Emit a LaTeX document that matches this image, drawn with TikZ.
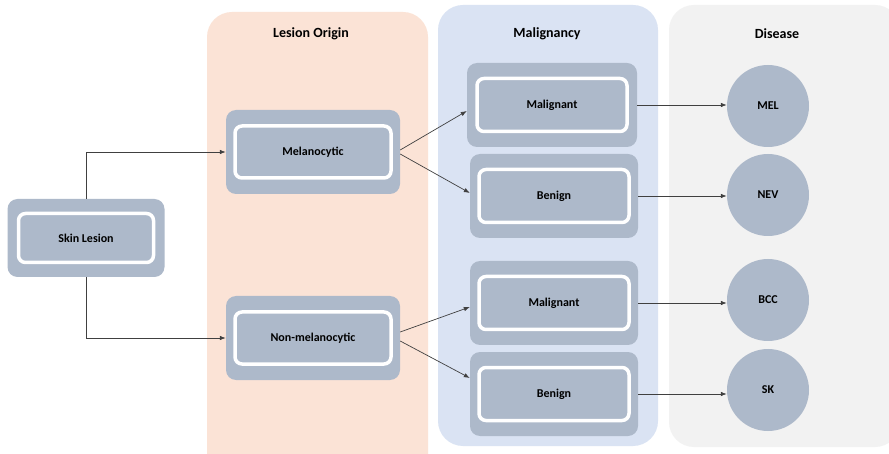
\documentclass[tikz,border=0pt]{standalone}
\usepackage{fontspec}
\setmainfont{Carlito}[BoldFont={Carlito Bold}]
\usetikzlibrary{arrows.meta,calc}
\definecolor{boxc}{HTML}{ADB9CA}
\definecolor{peach}{HTML}{FBE3D6}
\definecolor{lblue}{HTML}{DAE3F3}
\definecolor{lgray}{HTML}{F2F2F2}
\definecolor{linec}{HTML}{404040}
\tikzset{
  outerbox/.style={fill=boxc, draw=none, rounded corners=10pt, inner sep=0pt},
  innerbox/.style={fill=boxc, draw=white, line width=3.5pt, rounded corners=7pt, font=\fontsize{12}{14}\selectfont\bfseries, inner sep=0pt},
  disc/.style={circle, fill=boxc, draw=none, minimum size=82pt, inner sep=0pt, font=\fontsize{12}{14}\selectfont\bfseries},
  head/.style={font=\fontsize{14}{17}\selectfont\bfseries},
  conn/.style={draw=linec, line width=0.7pt, -{Latex[length=6pt,width=4.5pt]}}
}
\begin{document}
\begin{tikzpicture}[x=1pt,y=-1pt]
\useasboundingbox (0,0) rectangle (889,454);
\fill[white] (0,0) rectangle (889,454);
\begin{scope}
\clip (0,0) rectangle (889,454);
\fill[peach, rounded corners=25pt] (207,12) rectangle (428,480);
\fill[lblue, rounded corners=25pt] (438,5) rectangle (658,446);
\fill[lgray, rounded corners=25pt] (669,5) rectangle (900,447);
\end{scope}
\node[head] (h1) at (311,34) {Lesion Origin};
\node[head] (h2) at (547,34) {Malignancy};
\node[head] (h3) at (777,34) {Disease};

% Skin lesion
\node[outerbox, minimum width=157pt, minimum height=78pt] (skin) at (86,238) {};
\node[innerbox, minimum width=135pt, minimum height=49pt] (skinin) at (skin) {Skin Lesion};

% Lesion origin
\node[outerbox, minimum width=174pt, minimum height=84pt] (mel) at (313,152) {};
\node[innerbox, minimum width=156pt, minimum height=52pt] (melin) at (mel) {Melanocytic};
\node[outerbox, minimum width=174pt, minimum height=84pt] (non) at (313,338) {};
\node[innerbox, minimum width=156pt, minimum height=52pt] (nonin) at (non) {Non-melanocytic};

% Malignancy
\node[outerbox, minimum width=170pt, minimum height=84pt] (mal1) at (552,105) {};
\node[innerbox, minimum width=150pt, minimum height=53pt] (mal1in) at (mal1) {Malignant};
\node[outerbox, minimum width=168pt, minimum height=84pt] (ben1) at (554,196) {};
\node[innerbox, minimum width=150pt, minimum height=53pt] (ben1in) at (ben1) {Benign};
\node[outerbox, minimum width=168pt, minimum height=84pt] (mal2) at (554,303) {};
\node[innerbox, minimum width=150pt, minimum height=53pt] (mal2in) at (mal2) {Malignant};
\node[outerbox, minimum width=168pt, minimum height=84pt] (ben2) at (554,394) {};
\node[innerbox, minimum width=150pt, minimum height=53pt] (ben2in) at (ben2) {Benign};

% Disease
\node[disc] (MEL) at (768,106) {MEL};
\node[disc] (NEV) at (768,195) {NEV};
\node[disc] (BCC) at (768,300) {BCC};
\node[disc] (SK) at (768,390) {SK};

% connectors
\draw[conn] (skin.north) |- (mel.west);
\draw[conn] (skin.south) |- (non.west);
\draw[conn] ($(mel.east)+(0,-2)$) -- ($(mal1.west)+(0,6)$);
\draw[conn] ($(mel.east)+(0,2)$) -- ($(ben1.west)+(0,-3)$);
\draw[conn] ($(non.east)+(0,-6)$) -- ($(mal2.west)+(0,4)$);
\draw[conn] ($(non.east)+(0,3)$) -- ($(ben2.west)+(0,-16)$);
\draw[conn] (mal1.east) -- (mal1.east -| MEL.west);
\draw[conn] (ben1.east) -- (ben1.east -| NEV.west);
\draw[conn] (mal2.east) -- (mal2.east -| BCC.west);
\draw[conn] (ben2.east) -- (ben2.east -| SK.west);
\end{tikzpicture}
\end{document}
